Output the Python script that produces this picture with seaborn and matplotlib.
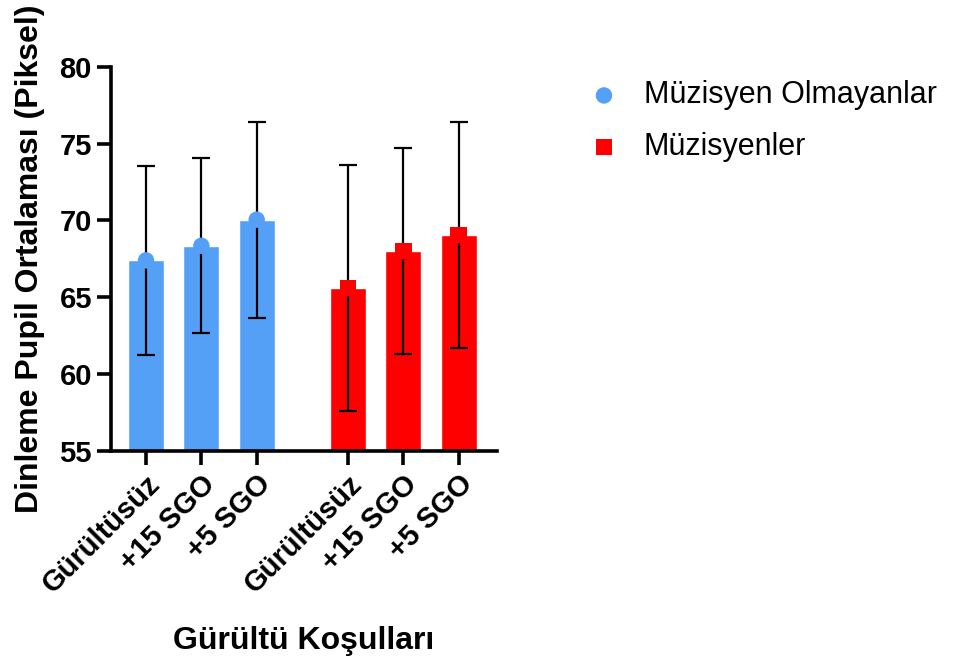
import numpy as np
import pandas as pd
import seaborn as sns
import matplotlib.pyplot as plt

conditions = ['Gürültüsüz', '+15 SGO', '+5 SGO']
groups = ['Müzisyen Olmayanlar', 'Müzisyenler']
nonmus_mean = [67.4, 68.35, 70.05]
nonmus_sd = [6.15, 5.7, 6.38]
mus_mean = [65.6, 68.0, 69.05]
mus_sd = [8.0, 6.7, 7.35]

colors = {'Müzisyen Olmayanlar': '#55a0f7', 'Müzisyenler': '#ff0000'}
markers = {'Müzisyen Olmayanlar': 'o', 'Müzisyenler': 's'}

# bar positions: 3 per group, gap between groups
pos = np.concatenate([np.arange(3), np.arange(3) + 3.65])

df = pd.DataFrame({
    'pos': pos,
    'cond': conditions * 2,
    'group': [groups[0]] * 3 + [groups[1]] * 3,
    'mean': nonmus_mean + mus_mean,
    'sd': nonmus_sd + mus_sd,
})

sns.set_style('ticks')
plt.rcParams['font.family'] = ['Liberation Sans', 'DejaVu Sans']
plt.rcParams['text.color'] = 'black'
plt.rcParams['axes.labelcolor'] = 'black'
plt.rcParams['xtick.color'] = 'black'
plt.rcParams['ytick.color'] = 'black'
plt.rcParams['axes.edgecolor'] = 'black'

fig = plt.figure(figsize=(9.62, 6.62), dpi=100)
ax = fig.add_axes([0.115, 0.319, 0.402, 0.58])

sns.barplot(data=df, x='pos', y='mean', hue='group', palette=colors,
            native_scale=True, dodge=False, width=0.65, errorbar=None,
            saturation=1, legend=False, ax=ax, zorder=1)

ax.errorbar(df['pos'], df['mean'], yerr=df['sd'], fmt='none', ecolor='black',
            elinewidth=1.6, capsize=6.5, capthick=1.6, zorder=3)

for g in groups:
    sub = df[df['group'] == g]
    sns.scatterplot(data=sub, x='pos', y='mean', color=colors[g], marker=markers[g],
                    s=140, edgecolor='none', ax=ax, zorder=4, label=g)

ax.set_ylim(55, 80)
ax.set_yticks(np.arange(55, 81, 5))
ax.set_xlim(-0.64, 6.35)
ax.set_xticks(df['pos'])
ax.set_xticklabels(df['cond'], rotation=45, ha='right', rotation_mode='anchor')

for s in ['top', 'right']:
    ax.spines[s].set_visible(False)
for s in ['left', 'bottom']:
    ax.spines[s].set_linewidth(2.6)
ax.tick_params(axis='both', length=10, width=2.6, labelsize=21)
for lab in ax.get_xticklabels() + ax.get_yticklabels():
    lab.set_fontweight('bold')

ax.set_xlabel('Gürültü Koşulları', fontsize=23, fontweight='bold', labelpad=20)
ax.set_ylabel('Dinleme Pupil Ortalaması (Piksel)', fontsize=23, fontweight='bold', labelpad=10)

ax.get_legend().remove()
handles, labels = ax.get_legend_handles_labels()
fig.legend(handles, labels, loc='upper left', bbox_to_anchor=(0.577, 0.92),
           frameon=False, fontsize=22, handletextpad=0.6, labelspacing=0.7,
           handlelength=1.4)

fig.savefig('out.png', dpi=100)
